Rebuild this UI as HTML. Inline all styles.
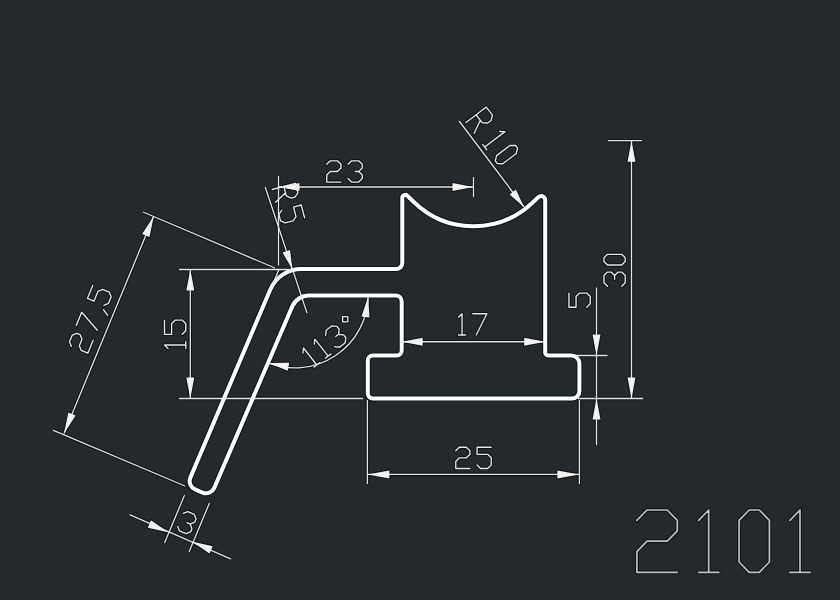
<!DOCTYPE html>
<html><head><meta charset="utf-8"><title>2101</title>
<style>html,body{margin:0;padding:0;background:#24292d;overflow:hidden;font-family:"Liberation Sans",sans-serif}svg{display:block}</style>
</head><body>
<svg width="840" height="600" viewBox="0 0 840 600">
<rect width="840" height="600" fill="#24292d"/>
<g opacity="0.8">
<path d="M190.37 477.65 L270.21 289.71 A34 34 0 0 1 301.51 269 L396.3 269 A6 6 0 0 0 402.3 263 L402.3 197.92 A3 3 0 0 1 407.39 195.77 L413.83 202.04 A85.4 85.4 0 0 0 531.6 203.45 L531.6 203.45 L538.48 197.05 A4 4 0 0 1 545.2 199.98 L545.2 352.5 A3 3 0 0 0 548.2 355.5 L571.4 355.5 A8 8 0 0 1 579.4 363.5 L579.4 391 A7.5 7.5 0 0 1 571.9 398.5 L372.8 398.5 A5 5 0 0 1 367.8 393.5 L367.8 360.5 A5 5 0 0 1 372.8 355.5 L396.7 355.5 A5 5 0 0 0 401.7 350.5 L401.7 301.5 A6 6 0 0 0 395.7 295.5 L308.84 295.5 A18 18 0 0 0 292.3 306.39 L214.28 487.84 A9 9 0 0 1 202.49 492.57 L195.14 489.45 A9 9 0 0 1 190.37 477.65 Z" fill="none" stroke="#0b0e11" stroke-width="6.2" stroke-linejoin="round"/>
<line x1="278.5" y1="176" x2="278.5" y2="265.5" stroke="#0b0e11" stroke-width="3.5"/>
<line x1="473.5" y1="177" x2="473.5" y2="197" stroke="#0b0e11" stroke-width="3.5"/>
<line x1="278.5" y1="187" x2="473.5" y2="187" stroke="#0b0e11" stroke-width="3.5"/>
<polygon points="278.5,187 299.5,183 299.5,191" fill="#0b0e11" stroke="#0b0e11" stroke-width="2.2" stroke-linejoin="round"/>
<polygon points="473.5,187 452.5,191 452.5,183" fill="#0b0e11" stroke="#0b0e11" stroke-width="2.2" stroke-linejoin="round"/>
<path d="M326.75 164.35 L330.3 160.8 L337.4 160.8 L340.95 164.35 L340.95 167.9 L337.4 171.45 L330.3 171.45 L326.75 175 L326.75 182.1 L340.95 182.1 M348.05 164.35 L351.6 160.8 L358.7 160.8 L362.25 164.35 L362.25 167.9 L358.7 171.45 L362.25 175 L362.25 178.55 L358.7 182.1 L351.6 182.1 L348.05 178.55 M355.15 171.45 L358.7 171.45" fill="none" stroke="#0b0e11" stroke-width="3.55" stroke-linejoin="round" stroke-linecap="round"/>
<line x1="279.2" y1="269" x2="272.4" y2="285" stroke="#0b0e11" stroke-width="3.5"/>
<line x1="265.2" y1="187" x2="307" y2="313" stroke="#0b0e11" stroke-width="3.5"/>
<polygon points="292.3,269.3 282.51,252.56 290.09,250.04" fill="#0b0e11" stroke="#0b0e11" stroke-width="2.2" stroke-linejoin="round"/>
<path d="M272.2 189.5 L295.38 183.29 L297.94 192.85 L294.93 197.07 L291.07 198.11 L286.35 195.96 L283.79 186.39 M285.5 192.77 L275.62 202.25 M304.62 217.77 L301.21 205.02 L293.48 207.09 L296.04 216.65 L293.03 220.88 L285.3 222.95 L280.59 220.8 L278.88 214.42 L281.89 210.2" fill="none" stroke="#0b0e11" stroke-width="3.55" stroke-linejoin="round" stroke-linecap="round"/>
<line x1="459.1" y1="121" x2="524" y2="207" stroke="#0b0e11" stroke-width="3.5"/>
<polygon points="524,207 509.51,194.41 515.89,189.59" fill="#0b0e11" stroke="#0b0e11" stroke-width="2.2" stroke-linejoin="round"/>
<path d="M466 122.5 L486.28 107.05 L492.47 115.16 L491.15 120.44 L487.76 123.02 L482.32 122.89 L476.14 114.77 M480.26 120.18 L474.24 133.32 M499.57 131.5 L505.01 131.63 L484.73 147.08 M482.66 144.38 L486.79 149.78 M515.55 145.47 L517.61 148.17 L516.29 153.45 L502.77 163.76 L497.33 163.63 L495.27 160.92 L496.59 155.64 L510.11 145.34 L515.55 145.47" fill="none" stroke="#0b0e11" stroke-width="3.55" stroke-linejoin="round" stroke-linecap="round"/>
<line x1="608" y1="140.7" x2="642" y2="140.7" stroke="#0b0e11" stroke-width="3.5"/>
<line x1="578" y1="398.5" x2="643" y2="398.5" stroke="#0b0e11" stroke-width="3.5"/>
<line x1="631.5" y1="140.7" x2="631.5" y2="398.5" stroke="#0b0e11" stroke-width="3.5"/>
<polygon points="631.5,140.7 635.5,161.7 627.5,161.7" fill="#0b0e11" stroke="#0b0e11" stroke-width="2.2" stroke-linejoin="round"/>
<polygon points="631.5,398.5 627.5,377.5 635.5,377.5" fill="#0b0e11" stroke="#0b0e11" stroke-width="2.2" stroke-linejoin="round"/>
<path d="M607.5 286.25 L603.95 282.7 L603.95 275.6 L607.5 272.05 L611.05 272.05 L614.6 275.6 L618.15 272.05 L621.7 272.05 L625.25 275.6 L625.25 282.7 L621.7 286.25 M614.6 279.15 L614.6 275.6 M603.95 261.4 L603.95 257.85 L607.5 254.3 L621.7 254.3 L625.25 257.85 L625.25 261.4 L621.7 264.95 L607.5 264.95 L603.95 261.4" fill="none" stroke="#0b0e11" stroke-width="3.55" stroke-linejoin="round" stroke-linecap="round"/>
<line x1="575" y1="355.5" x2="607.5" y2="355.5" stroke="#0b0e11" stroke-width="3.5"/>
<line x1="596.5" y1="287.5" x2="596.5" y2="445" stroke="#0b0e11" stroke-width="3.5"/>
<polygon points="596.5,355.5 592.5,334.5 600.5,334.5" fill="#0b0e11" stroke="#0b0e11" stroke-width="2.2" stroke-linejoin="round"/>
<polygon points="596.5,398.5 600.5,419.5 592.5,419.5" fill="#0b0e11" stroke="#0b0e11" stroke-width="2.2" stroke-linejoin="round"/>
<path d="M568.95 293.05 L568.95 307.25 L576.05 307.25 L576.05 296.6 L579.6 293.05 L586.7 293.05 L590.25 296.6 L590.25 303.7 L586.7 307.25" fill="none" stroke="#0b0e11" stroke-width="3.55" stroke-linejoin="round" stroke-linecap="round"/>
<line x1="401.7" y1="341.75" x2="545.2" y2="341.75" stroke="#0b0e11" stroke-width="3.5"/>
<polygon points="401.7,341.75 422.7,337.75 422.7,345.75" fill="#0b0e11" stroke="#0b0e11" stroke-width="2.2" stroke-linejoin="round"/>
<polygon points="545.2,341.75 524.2,345.75 524.2,337.75" fill="#0b0e11" stroke="#0b0e11" stroke-width="2.2" stroke-linejoin="round"/>
<path d="M458.5 317.25 L462.05 313.7 L462.05 335 M458.5 335 L465.6 335 M472.7 313.7 L486.9 313.7 L476.25 335" fill="none" stroke="#0b0e11" stroke-width="3.55" stroke-linejoin="round" stroke-linecap="round"/>
<line x1="367.4" y1="400" x2="367.4" y2="484" stroke="#0b0e11" stroke-width="3.5"/>
<line x1="579.4" y1="400" x2="579.4" y2="484" stroke="#0b0e11" stroke-width="3.5"/>
<line x1="367.4" y1="474.4" x2="579.4" y2="474.4" stroke="#0b0e11" stroke-width="3.5"/>
<polygon points="367.4,474.4 389.4,470.4 389.4,478.4" fill="#0b0e11" stroke="#0b0e11" stroke-width="2.2" stroke-linejoin="round"/>
<polygon points="579.4,474.4 557.4,478.4 557.4,470.4" fill="#0b0e11" stroke="#0b0e11" stroke-width="2.2" stroke-linejoin="round"/>
<path d="M455.75 450.75 L459.3 447.2 L466.4 447.2 L469.95 450.75 L469.95 454.3 L466.4 457.85 L459.3 457.85 L455.75 461.4 L455.75 468.5 L469.95 468.5 M491.25 447.2 L477.05 447.2 L477.05 454.3 L487.7 454.3 L491.25 457.85 L491.25 464.95 L487.7 468.5 L480.6 468.5 L477.05 464.95" fill="none" stroke="#0b0e11" stroke-width="3.55" stroke-linejoin="round" stroke-linecap="round"/>
<line x1="179" y1="269.5" x2="293" y2="269.5" stroke="#0b0e11" stroke-width="3.5"/>
<line x1="179" y1="398.5" x2="363" y2="398.5" stroke="#0b0e11" stroke-width="3.5"/>
<line x1="190.3" y1="269.5" x2="190.3" y2="398.5" stroke="#0b0e11" stroke-width="3.5"/>
<polygon points="190.3,269.5 194.3,290.5 186.3,290.5" fill="#0b0e11" stroke="#0b0e11" stroke-width="2.2" stroke-linejoin="round"/>
<polygon points="190.3,398.5 186.3,377.5 194.3,377.5" fill="#0b0e11" stroke="#0b0e11" stroke-width="2.2" stroke-linejoin="round"/>
<path d="M168.05 348.5 L164.5 344.95 L185.8 344.95 M185.8 348.5 L185.8 341.4 M164.5 320.1 L164.5 334.3 L171.6 334.3 L171.6 323.65 L175.15 320.1 L182.25 320.1 L185.8 323.65 L185.8 330.75 L182.25 334.3" fill="none" stroke="#0b0e11" stroke-width="3.55" stroke-linejoin="round" stroke-linecap="round"/>
<line x1="143" y1="212" x2="275" y2="268" stroke="#0b0e11" stroke-width="3.5"/>
<line x1="52.8" y1="430.2" x2="185" y2="486" stroke="#0b0e11" stroke-width="3.5"/>
<line x1="64" y1="433.4" x2="153.8" y2="216" stroke="#0b0e11" stroke-width="3.5"/>
<polygon points="153.8,216 149.5,237.02 142.1,233.98" fill="#0b0e11" stroke="#0b0e11" stroke-width="2.2" stroke-linejoin="round"/>
<polygon points="64,433.4 68.3,412.38 75.7,415.42" fill="#0b0e11" stroke="#0b0e11" stroke-width="2.2" stroke-linejoin="round"/>
<path d="M71.4 346.41 L69.48 341.77 L72.2 335.21 L76.84 333.29 L80.12 334.65 L82.04 339.29 L79.32 345.84 L81.24 350.48 L87.8 353.2 L93.23 340.08 M76.27 325.37 L81.71 312.25 L97.31 330.24 M103.49 309.75 L107.71 315.34 M92.85 285.36 L87.41 298.48 L93.97 301.19 L98.05 291.35 L102.69 289.43 L109.25 292.15 L111.17 296.79 L108.45 303.35 L103.81 305.27" fill="none" stroke="#0b0e11" stroke-width="3.55" stroke-linejoin="round" stroke-linecap="round"/>
<line x1="184.6" y1="495" x2="164.5" y2="543" stroke="#0b0e11" stroke-width="3.5"/>
<line x1="209.5" y1="502.9" x2="189" y2="552" stroke="#0b0e11" stroke-width="3.5"/>
<line x1="129.6" y1="514.6" x2="231.1" y2="559.2" stroke="#0b0e11" stroke-width="3.5"/>
<polygon points="168.2,532.3 147.78,527.66 151.02,520.34" fill="#0b0e11" stroke="#0b0e11" stroke-width="2.2" stroke-linejoin="round"/>
<polygon points="191.8,541.5 212.68,546.13 209.52,553.47" fill="#0b0e11" stroke="#0b0e11" stroke-width="2.2" stroke-linejoin="round"/>
<path d="M183.28 513.45 L187.88 511.64 L194.3 514.43 L196.12 519.03 L194.72 522.24 L190.12 524.06 L191.93 528.66 L190.53 531.87 L185.93 533.69 L179.51 530.9 L177.7 526.29 M186.91 522.66 L190.12 524.06" fill="none" stroke="#0b0e11" stroke-width="3.55" stroke-linejoin="round" stroke-linecap="round"/>
<path d="M368.21 296.51 A73.37 73.37 0 0 1 268.7 363.08" fill="none" stroke="#0b0e11" stroke-width="3.5"/>
<polygon points="368.21,296.51 369.47,317.53 361.53,316.47" fill="#0b0e11" stroke="#0b0e11" stroke-width="2.2" stroke-linejoin="round"/>
<polygon points="268.7,363.08 289.24,362.87 287.76,370.73" fill="#0b0e11" stroke="#0b0e11" stroke-width="2.2" stroke-linejoin="round"/>
<path d="M302.92 353.02 L303.54 347.96 L316.84 364.98 M314 367.2 L319.67 362.77 M314.27 344.15 L314.89 339.1 L328.18 356.12 M325.35 358.33 L331.02 353.9 M325.61 335.28 L326.23 330.23 L331.91 325.8 L336.96 326.42 L339.18 329.26 L338.56 334.31 L343.61 334.93 L345.83 337.77 L345.21 342.82 L339.53 347.25 L334.48 346.63 M335.72 336.53 L338.56 334.31" fill="none" stroke="#0b0e11" stroke-width="3.55" stroke-linejoin="round" stroke-linecap="round"/>
<path d="M342.6 316.6 L347.82 316.6 L347.82 321.82 L342.6 321.82 L342.6 316.6" fill="none" stroke="#0b0e11" stroke-width="3.55" stroke-linejoin="round" stroke-linecap="round"/>
<path d="M636.9 520.4 L647 510 L667.2 510 L677.3 520.4 L677.3 530.8 L667.2 541.2 L647 541.2 L636.9 551.6 L636.9 572.4 L677.3 572.4 M698.6 520.4 L708.7 510 L708.7 572.4 M698.6 572.4 L718.8 572.4 M749.2 510 L759.3 510 L769.4 520.4 L769.4 562 L759.3 572.4 L749.2 572.4 L739.1 562 L739.1 520.4 L749.2 510 M789.9 520.4 L800 510 L800 572.4 M789.9 572.4 L810.1 572.4" fill="none" stroke="#0b0e11" stroke-width="3.9" stroke-linejoin="round" stroke-linecap="round"/>
</g>
<path d="M190.37 477.65 L270.21 289.71 A34 34 0 0 1 301.51 269 L396.3 269 A6 6 0 0 0 402.3 263 L402.3 197.92 A3 3 0 0 1 407.39 195.77 L413.83 202.04 A85.4 85.4 0 0 0 531.6 203.45 L531.6 203.45 L538.48 197.05 A4 4 0 0 1 545.2 199.98 L545.2 352.5 A3 3 0 0 0 548.2 355.5 L571.4 355.5 A8 8 0 0 1 579.4 363.5 L579.4 391 A7.5 7.5 0 0 1 571.9 398.5 L372.8 398.5 A5 5 0 0 1 367.8 393.5 L367.8 360.5 A5 5 0 0 1 372.8 355.5 L396.7 355.5 A5 5 0 0 0 401.7 350.5 L401.7 301.5 A6 6 0 0 0 395.7 295.5 L308.84 295.5 A18 18 0 0 0 292.3 306.39 L214.28 487.84 A9 9 0 0 1 202.49 492.57 L195.14 489.45 A9 9 0 0 1 190.37 477.65 Z" fill="none" stroke="#ffffff" stroke-width="4" stroke-linejoin="round"/>
<line x1="278.5" y1="176" x2="278.5" y2="265.5" stroke="#e2e6ea" stroke-width="1.3"/>
<line x1="473.5" y1="177" x2="473.5" y2="197" stroke="#e2e6ea" stroke-width="1.3"/>
<line x1="278.5" y1="187" x2="473.5" y2="187" stroke="#e2e6ea" stroke-width="1.3"/>
<polygon points="278.5,187 299.5,183 299.5,191" fill="#f2f2f2"/>
<polygon points="473.5,187 452.5,191 452.5,183" fill="#f2f2f2"/>
<path d="M326.75 164.35 L330.3 160.8 L337.4 160.8 L340.95 164.35 L340.95 167.9 L337.4 171.45 L330.3 171.45 L326.75 175 L326.75 182.1 L340.95 182.1 M348.05 164.35 L351.6 160.8 L358.7 160.8 L362.25 164.35 L362.25 167.9 L358.7 171.45 L362.25 175 L362.25 178.55 L358.7 182.1 L351.6 182.1 L348.05 178.55 M355.15 171.45 L358.7 171.45" fill="none" stroke="#e6e8ea" stroke-width="1.35" stroke-linejoin="round" stroke-linecap="round"/>
<line x1="279.2" y1="269" x2="272.4" y2="285" stroke="#e2e6ea" stroke-width="1.3"/>
<line x1="265.2" y1="187" x2="307" y2="313" stroke="#e2e6ea" stroke-width="1.3"/>
<polygon points="292.3,269.3 282.51,252.56 290.09,250.04" fill="#f2f2f2"/>
<path d="M272.2 189.5 L295.38 183.29 L297.94 192.85 L294.93 197.07 L291.07 198.11 L286.35 195.96 L283.79 186.39 M285.5 192.77 L275.62 202.25 M304.62 217.77 L301.21 205.02 L293.48 207.09 L296.04 216.65 L293.03 220.88 L285.3 222.95 L280.59 220.8 L278.88 214.42 L281.89 210.2" fill="none" stroke="#e6e8ea" stroke-width="1.35" stroke-linejoin="round" stroke-linecap="round"/>
<line x1="459.1" y1="121" x2="524" y2="207" stroke="#e2e6ea" stroke-width="1.3"/>
<polygon points="524,207 509.51,194.41 515.89,189.59" fill="#f2f2f2"/>
<path d="M466 122.5 L486.28 107.05 L492.47 115.16 L491.15 120.44 L487.76 123.02 L482.32 122.89 L476.14 114.77 M480.26 120.18 L474.24 133.32 M499.57 131.5 L505.01 131.63 L484.73 147.08 M482.66 144.38 L486.79 149.78 M515.55 145.47 L517.61 148.17 L516.29 153.45 L502.77 163.76 L497.33 163.63 L495.27 160.92 L496.59 155.64 L510.11 145.34 L515.55 145.47" fill="none" stroke="#e6e8ea" stroke-width="1.35" stroke-linejoin="round" stroke-linecap="round"/>
<line x1="608" y1="140.7" x2="642" y2="140.7" stroke="#e2e6ea" stroke-width="1.3"/>
<line x1="578" y1="398.5" x2="643" y2="398.5" stroke="#e2e6ea" stroke-width="1.3"/>
<line x1="631.5" y1="140.7" x2="631.5" y2="398.5" stroke="#e2e6ea" stroke-width="1.3"/>
<polygon points="631.5,140.7 635.5,161.7 627.5,161.7" fill="#f2f2f2"/>
<polygon points="631.5,398.5 627.5,377.5 635.5,377.5" fill="#f2f2f2"/>
<path d="M607.5 286.25 L603.95 282.7 L603.95 275.6 L607.5 272.05 L611.05 272.05 L614.6 275.6 L618.15 272.05 L621.7 272.05 L625.25 275.6 L625.25 282.7 L621.7 286.25 M614.6 279.15 L614.6 275.6 M603.95 261.4 L603.95 257.85 L607.5 254.3 L621.7 254.3 L625.25 257.85 L625.25 261.4 L621.7 264.95 L607.5 264.95 L603.95 261.4" fill="none" stroke="#e6e8ea" stroke-width="1.35" stroke-linejoin="round" stroke-linecap="round"/>
<line x1="575" y1="355.5" x2="607.5" y2="355.5" stroke="#e2e6ea" stroke-width="1.3"/>
<line x1="596.5" y1="287.5" x2="596.5" y2="445" stroke="#e2e6ea" stroke-width="1.3"/>
<polygon points="596.5,355.5 592.5,334.5 600.5,334.5" fill="#f2f2f2"/>
<polygon points="596.5,398.5 600.5,419.5 592.5,419.5" fill="#f2f2f2"/>
<path d="M568.95 293.05 L568.95 307.25 L576.05 307.25 L576.05 296.6 L579.6 293.05 L586.7 293.05 L590.25 296.6 L590.25 303.7 L586.7 307.25" fill="none" stroke="#e6e8ea" stroke-width="1.35" stroke-linejoin="round" stroke-linecap="round"/>
<line x1="401.7" y1="341.75" x2="545.2" y2="341.75" stroke="#e2e6ea" stroke-width="1.3"/>
<polygon points="401.7,341.75 422.7,337.75 422.7,345.75" fill="#f2f2f2"/>
<polygon points="545.2,341.75 524.2,345.75 524.2,337.75" fill="#f2f2f2"/>
<path d="M458.5 317.25 L462.05 313.7 L462.05 335 M458.5 335 L465.6 335 M472.7 313.7 L486.9 313.7 L476.25 335" fill="none" stroke="#e6e8ea" stroke-width="1.35" stroke-linejoin="round" stroke-linecap="round"/>
<line x1="367.4" y1="400" x2="367.4" y2="484" stroke="#e2e6ea" stroke-width="1.3"/>
<line x1="579.4" y1="400" x2="579.4" y2="484" stroke="#e2e6ea" stroke-width="1.3"/>
<line x1="367.4" y1="474.4" x2="579.4" y2="474.4" stroke="#e2e6ea" stroke-width="1.3"/>
<polygon points="367.4,474.4 389.4,470.4 389.4,478.4" fill="#f2f2f2"/>
<polygon points="579.4,474.4 557.4,478.4 557.4,470.4" fill="#f2f2f2"/>
<path d="M455.75 450.75 L459.3 447.2 L466.4 447.2 L469.95 450.75 L469.95 454.3 L466.4 457.85 L459.3 457.85 L455.75 461.4 L455.75 468.5 L469.95 468.5 M491.25 447.2 L477.05 447.2 L477.05 454.3 L487.7 454.3 L491.25 457.85 L491.25 464.95 L487.7 468.5 L480.6 468.5 L477.05 464.95" fill="none" stroke="#e6e8ea" stroke-width="1.35" stroke-linejoin="round" stroke-linecap="round"/>
<line x1="179" y1="269.5" x2="293" y2="269.5" stroke="#e2e6ea" stroke-width="1.3"/>
<line x1="179" y1="398.5" x2="363" y2="398.5" stroke="#e2e6ea" stroke-width="1.3"/>
<line x1="190.3" y1="269.5" x2="190.3" y2="398.5" stroke="#e2e6ea" stroke-width="1.3"/>
<polygon points="190.3,269.5 194.3,290.5 186.3,290.5" fill="#f2f2f2"/>
<polygon points="190.3,398.5 186.3,377.5 194.3,377.5" fill="#f2f2f2"/>
<path d="M168.05 348.5 L164.5 344.95 L185.8 344.95 M185.8 348.5 L185.8 341.4 M164.5 320.1 L164.5 334.3 L171.6 334.3 L171.6 323.65 L175.15 320.1 L182.25 320.1 L185.8 323.65 L185.8 330.75 L182.25 334.3" fill="none" stroke="#e6e8ea" stroke-width="1.35" stroke-linejoin="round" stroke-linecap="round"/>
<line x1="143" y1="212" x2="275" y2="268" stroke="#e2e6ea" stroke-width="1.3"/>
<line x1="52.8" y1="430.2" x2="185" y2="486" stroke="#e2e6ea" stroke-width="1.3"/>
<line x1="64" y1="433.4" x2="153.8" y2="216" stroke="#e2e6ea" stroke-width="1.3"/>
<polygon points="153.8,216 149.5,237.02 142.1,233.98" fill="#f2f2f2"/>
<polygon points="64,433.4 68.3,412.38 75.7,415.42" fill="#f2f2f2"/>
<path d="M71.4 346.41 L69.48 341.77 L72.2 335.21 L76.84 333.29 L80.12 334.65 L82.04 339.29 L79.32 345.84 L81.24 350.48 L87.8 353.2 L93.23 340.08 M76.27 325.37 L81.71 312.25 L97.31 330.24 M103.49 309.75 L107.71 315.34 M92.85 285.36 L87.41 298.48 L93.97 301.19 L98.05 291.35 L102.69 289.43 L109.25 292.15 L111.17 296.79 L108.45 303.35 L103.81 305.27" fill="none" stroke="#e6e8ea" stroke-width="1.35" stroke-linejoin="round" stroke-linecap="round"/>
<line x1="184.6" y1="495" x2="164.5" y2="543" stroke="#e2e6ea" stroke-width="1.3"/>
<line x1="209.5" y1="502.9" x2="189" y2="552" stroke="#e2e6ea" stroke-width="1.3"/>
<line x1="129.6" y1="514.6" x2="231.1" y2="559.2" stroke="#e2e6ea" stroke-width="1.3"/>
<polygon points="168.2,532.3 147.78,527.66 151.02,520.34" fill="#f2f2f2"/>
<polygon points="191.8,541.5 212.68,546.13 209.52,553.47" fill="#f2f2f2"/>
<path d="M183.28 513.45 L187.88 511.64 L194.3 514.43 L196.12 519.03 L194.72 522.24 L190.12 524.06 L191.93 528.66 L190.53 531.87 L185.93 533.69 L179.51 530.9 L177.7 526.29 M186.91 522.66 L190.12 524.06" fill="none" stroke="#e6e8ea" stroke-width="1.35" stroke-linejoin="round" stroke-linecap="round"/>
<path d="M368.21 296.51 A73.37 73.37 0 0 1 268.7 363.08" fill="none" stroke="#e2e6ea" stroke-width="1.3"/>
<polygon points="368.21,296.51 369.47,317.53 361.53,316.47" fill="#f2f2f2"/>
<polygon points="268.7,363.08 289.24,362.87 287.76,370.73" fill="#f2f2f2"/>
<path d="M302.92 353.02 L303.54 347.96 L316.84 364.98 M314 367.2 L319.67 362.77 M314.27 344.15 L314.89 339.1 L328.18 356.12 M325.35 358.33 L331.02 353.9 M325.61 335.28 L326.23 330.23 L331.91 325.8 L336.96 326.42 L339.18 329.26 L338.56 334.31 L343.61 334.93 L345.83 337.77 L345.21 342.82 L339.53 347.25 L334.48 346.63 M335.72 336.53 L338.56 334.31" fill="none" stroke="#e6e8ea" stroke-width="1.35" stroke-linejoin="round" stroke-linecap="round"/>
<path d="M342.6 316.6 L347.82 316.6 L347.82 321.82 L342.6 321.82 L342.6 316.6" fill="none" stroke="#e6e8ea" stroke-width="1.35" stroke-linejoin="round" stroke-linecap="round"/>
<path d="M636.9 520.4 L647 510 L667.2 510 L677.3 520.4 L677.3 530.8 L667.2 541.2 L647 541.2 L636.9 551.6 L636.9 572.4 L677.3 572.4 M698.6 520.4 L708.7 510 L708.7 572.4 M698.6 572.4 L718.8 572.4 M749.2 510 L759.3 510 L769.4 520.4 L769.4 562 L759.3 572.4 L749.2 572.4 L739.1 562 L739.1 520.4 L749.2 510 M789.9 520.4 L800 510 L800 572.4 M789.9 572.4 L810.1 572.4" fill="none" stroke="#bcc1c6" stroke-width="1.7" stroke-linejoin="round" stroke-linecap="round"/>
</svg>
</body></html>
